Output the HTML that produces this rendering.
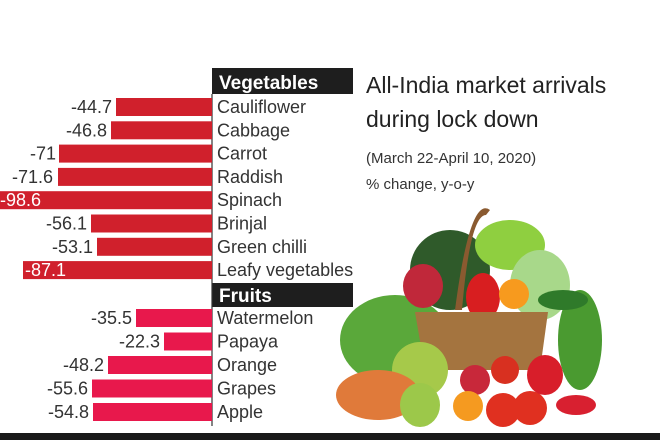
<!DOCTYPE html>
<html><head><meta charset="utf-8"><style>
body{margin:0;background:#fff;}
svg{display:block}
text{font-family:"Liberation Sans Narrow","Liberation Sans",sans-serif;}
</style></head><body>
<svg width="660" height="440" viewBox="0 0 660 440" xmlns="http://www.w3.org/2000/svg">
<rect width="660" height="440" fill="#fff"/>
<rect x="212" y="68" width="141" height="26" fill="#1e1e1e"/>
<text x="219" y="89" font-size="19" font-weight="bold" fill="#fff">Vegetables</text>
<rect x="212" y="283" width="141" height="24" fill="#1e1e1e"/>
<text x="219" y="302" font-size="19" font-weight="bold" fill="#fff">Fruits</text>
<line x1="212" y1="94" x2="212" y2="426" stroke="#333" stroke-width="1.2"/>
<g font-size="18" fill="#333">
<rect x="116" y="98" width="96" height="18" fill="#d0202c"/><text x="112" y="113" text-anchor="end">-44.7</text><text x="217" y="113">Cauliflower</text>
<rect x="111" y="121.3" width="101" height="18" fill="#d0202c"/><text x="107" y="136.3" text-anchor="end">-46.8</text><text x="217" y="136.3">Cabbage</text>
<rect x="59" y="144.6" width="153" height="18" fill="#d0202c"/><text x="56" y="159.6" text-anchor="end">-71</text><text x="217" y="159.6">Carrot</text>
<rect x="58" y="167.9" width="154" height="18" fill="#d0202c"/><text x="53" y="182.9" text-anchor="end">-71.6</text><text x="217" y="182.9">Raddish</text>
<rect x="0" y="191.2" width="212" height="18" fill="#d0202c"/><text x="0" y="206.2" fill="#fff">-98.6</text><text x="217" y="206.2">Spinach</text>
<rect x="91" y="214.5" width="121" height="18" fill="#d0202c"/><text x="87" y="229.5" text-anchor="end">-56.1</text><text x="217" y="229.5">Brinjal</text>
<rect x="97" y="237.8" width="115" height="18" fill="#d0202c"/><text x="93" y="252.8" text-anchor="end">-53.1</text><text x="217" y="252.8">Green chilli</text>
<rect x="23" y="261.1" width="189" height="18" fill="#d0202c"/><text x="25" y="276.1" fill="#fff">-87.1</text><text x="217" y="276.1">Leafy vegetables</text>
<rect x="136" y="309" width="76" height="18" fill="#e8184c"/><text x="132" y="324" text-anchor="end">-35.5</text><text x="217" y="324">Watermelon</text>
<rect x="164" y="332.5" width="48" height="18" fill="#e8184c"/><text x="160" y="347.5" text-anchor="end">-22.3</text><text x="217" y="347.5">Papaya</text>
<rect x="108" y="356" width="104" height="18" fill="#e8184c"/><text x="104" y="371" text-anchor="end">-48.2</text><text x="217" y="371">Orange</text>
<rect x="92" y="379.5" width="120" height="18" fill="#e8184c"/><text x="88" y="394.5" text-anchor="end">-55.6</text><text x="217" y="394.5">Grapes</text>
<rect x="93" y="403" width="119" height="18" fill="#e8184c"/><text x="89" y="418" text-anchor="end">-54.8</text><text x="217" y="418">Apple</text>
</g>
<g fill="#222">
<text x="366" y="93" font-size="23">All-India market arrivals</text>
<text x="366" y="127" font-size="23">during lock down</text>
<text x="366" y="163" font-size="15" fill="#333">(March 22-April 10, 2020)</text>
<text x="366" y="189" font-size="15" fill="#333">% change, y-o-y</text>
</g>
<g>
<ellipse cx="395" cy="340" rx="55" ry="45" fill="#5aa83a"/>
<ellipse cx="580" cy="340" rx="22" ry="50" fill="#4a9a30"/>
<ellipse cx="450" cy="270" rx="40" ry="40" fill="#2f5a2a"/>
<ellipse cx="510" cy="245" rx="35" ry="25" fill="#8fcf40"/>
<ellipse cx="540" cy="285" rx="30" ry="35" fill="#a8d88a"/>
<ellipse cx="563" cy="300" rx="25" ry="10" fill="#2f7a2a"/>
<path d="M455 310 Q470 195 490 210 L486 215 Q470 215 462 310Z" fill="#8a5a30"/>
<ellipse cx="423" cy="286" rx="20" ry="22" fill="#c0283a"/>
<ellipse cx="483" cy="297" rx="17" ry="24" fill="#d81e20"/>
<circle cx="514" cy="294" r="15" fill="#f79a1e"/>
<path d="M415 312 L548 312 L540 370 L425 370Z" fill="#a4743f"/>
<circle cx="420" cy="370" r="28" fill="#a6c94a"/>
<ellipse cx="378" cy="395" rx="42" ry="25" fill="#e07a3a"/>
<circle cx="475" cy="380" r="15" fill="#c8283a"/>
<circle cx="468" cy="406" r="15" fill="#f59a20"/>
<circle cx="503" cy="410" r="17" fill="#e03020"/>
<circle cx="530" cy="408" r="17" fill="#e03020"/>
<circle cx="505" cy="370" r="14" fill="#d83020"/>
<ellipse cx="545" cy="375" rx="18" ry="20" fill="#d81e2a"/>
<ellipse cx="576" cy="405" rx="20" ry="10" fill="#d82030"/>
<ellipse cx="420" cy="405" rx="20" ry="22" fill="#9cc84a"/>
</g>
<rect x="0" y="433" width="660" height="7" fill="#1a1a1a"/>
</svg>
</body></html>
